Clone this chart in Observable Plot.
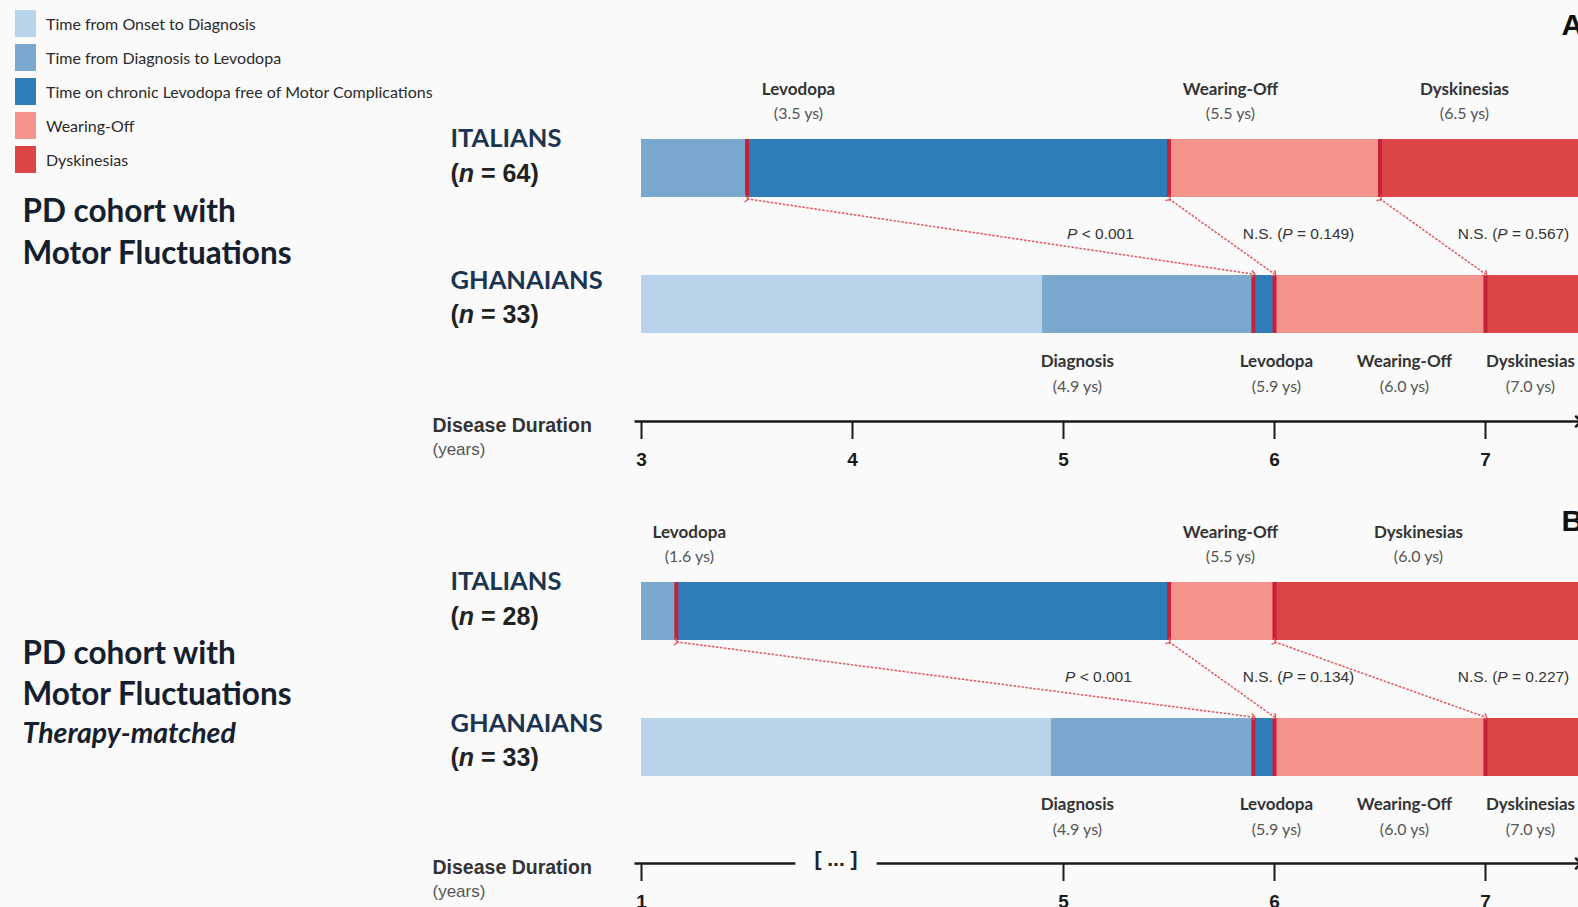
<!DOCTYPE html>
<html>
<head>
<meta charset="utf-8">
<script src="https://cdn.jsdelivr.net/npm/d3@7"></script>
<script src="https://cdn.jsdelivr.net/npm/@observablehq/plot@0.6"></script>
<style>
  html, body { margin: 0; padding: 0; background: #fafafa; overflow: hidden; }
  #page { position: relative; width: 1578px; height: 907px; }
  .panel { position: absolute; left: 0; }
  #legend { position: absolute; left: 15px; top: 10px; z-index: 2;
            font-family: Lato, sans-serif; font-size: 16px; color: #2a2a2a; }
  #legend .item { display: flex; align-items: center; height: 27px; margin-bottom: 7px; }
  #legend .sw { width: 21px; height: 27px; margin-right: 10px; }
</style>
</head>
<body>
<div id="page"><div id="legend"></div></div>
<script>
// Disease phases, in order along each bar
const phases = [
  "Time from Onset to Diagnosis",
  "Time from Diagnosis to Levodopa",
  "Time on chronic Levodopa free of Motor Complications",
  "Wearing-Off",
  "Dyskinesias"
];
const phaseColors = ["#b9d4ea", "#7aa8cf", "#2e7db8", "#f4938b", "#dc4545"];

// Milestones that close each phase (years of disease duration)
const events = ["Diagnosis", "Levodopa", "Wearing-Off", "Dyskinesias"];
const cohorts = ["ITALIANS", "GHANAIANS"];

// A: PD cohort with motor fluctuations
const sizesA = [64, 33];
const italiansA = [null, 3.5, 5.5, 6.5];
const ghanaiansA = [4.9, 5.9, 6.0, 7.0];
const pLabelsA = ["P < 0.001", "N.S. (P = 0.149)", "N.S. (P = 0.567)"];
const ticksA = [3, 4, 5, 6, 7];

// B: therapy-matched cohort
const sizesB = [28, 33];
const italiansB = [null, 1.6, 5.5, 6.0];
const ghanaiansB = [4.9, 5.9, 6.0, 7.0];
const pLabelsB = ["P < 0.001", "N.S. (P = 0.134)", "N.S. (P = 0.227)"];
const ticksB = [1, 5, 6, 7];

// ---- layout ----
const W = 1578;
const markerRed = "#c4213a";
const arrowRed = "#e0555b";
const navy = "#1b3550";
const hRow = 29 / 136; // half bar height, in row units

// Panel B has a broken time axis: the first years are squeezed before the break
const brokenB = d3.scaleLinear().domain([1, 2, 5, 8]).range([3, 3.275, 5, 8]);
const straight = (v) => v;

const panels = [
  {
    top: 0, height: 470, rowY: [168, 304], axisY: 421, fold: straight,
    xDomain: [3, 7.4408], xRange: [641, 1578], barStart: 3, axisFrom: 2.967, gap: null,
    times: [italiansA, ghanaiansA], sizes: sizesA, pLabels: pLabelsA, ticks: ticksA,
    topShift: [51.5, 61.5, 84.5], bottomShift: [35, 23, 130, 45], pShift: [-153, 24, 28],
    titles: [["PD cohort with", 211, false], ["Motor Fluctuations", 253, false]],
    letter: "A", letterY: 25
  },
  {
    top: 470, height: 437, rowY: [141, 277], axisY: 393, fold: brokenB,
    xDomain: [3, 7.4408], xRange: [641, 1578], barStart: 1, axisFrom: 0.879, gap: [2.79, 3.46],
    times: [italiansB, ghanaiansB], sizes: sizesB, pLabels: pLabelsB, ticks: ticksB,
    topShift: [13, 61.5, 144], bottomShift: [26, 23, 130, 45], pShift: [-155, 24, 28],
    titles: [["PD cohort with", 183, false], ["Motor Fluctuations", 224, false], ["Therapy-matched", 263, true]],
    letter: "B", letterY: 51
  }
];

// Legend
const legend = document.getElementById("legend");
phases.forEach((p, i) => {
  const item = document.createElement("div");
  item.className = "item";
  item.innerHTML = `<div class="sw" style="background:${phaseColors[i]}"></div><span>${p}</span>`;
  legend.appendChild(item);
});

// Split a cohort's milestones into coloured phase segments
function segments(times, row, start, end) {
  const out = [];
  let x1 = start;
  times.forEach((t, i) => {
    if (t == null) return;
    out.push({row, phase: phases[i], x1, x2: t});
    x1 = t;
  });
  out.push({row, phase: phases[4], x1, x2: end});
  return out;
}

// Italic statistical symbols (P, n)
function italicize(svg) {
  svg.querySelectorAll("text").forEach((t) => {
    if (t.children.length) return;
    const s = t.textContent;
    if (!/\(n = |\bP [<=]/.test(s)) return;
    t.textContent = "";
    s.split(/(\bP\b|\bn\b)/).forEach((part) => {
      if (!part) return;
      const ts = document.createElementNS("http://www.w3.org/2000/svg", "tspan");
      ts.textContent = part;
      if (part === "P" || part === "n") ts.setAttribute("font-style", "italic");
      t.appendChild(ts);
    });
  });
}

const sans = "Lato, sans-serif";
const arial = "'Liberation Sans', Arial, sans-serif";

panels.forEach((L) => {
  const f = L.fold;
  const xEnd = L.xDomain[1];
  const [it, gh] = L.times;
  const segs = [...segments(it, 0, L.barStart, xEnd), ...segments(gh, 1, L.barStart, xEnd)];
  const milestoneMarks = [];
  [it, gh].forEach((times, row) =>
    times.forEach((t, i) => { if (i > 0 && t != null) milestoneMarks.push({row, x: t}); })
  );
  const pairs = [1, 2, 3].map((i) => ({a: it[i], b: gh[i]}));
  const axisRow = (L.axisY - L.rowY[0]) / (L.rowY[1] - L.rowY[0]);

  const topLabels = events.slice(1).map((name, k) => ({name, value: it[k + 1], shift: L.topShift[k]}));
  const bottomLabels = events.map((name, k) => ({name, value: gh[k], shift: L.bottomShift[k]}));
  const pLabels = L.pLabels.map((label, k) => ({label, value: gh[k + 1], shift: L.pShift[k]}));

  const nameFont = {fontFamily: sans, fontSize: 17, fontWeight: "bold", fill: "#333"};
  const valueFont = {fontFamily: sans, fontSize: 16, fill: "#555"};
  const axisStroke = {stroke: "#1a1a1a", strokeWidth: 2.5};
  const atAxis = {y1: () => axisRow, y2: () => axisRow};

  const axisLines = L.gap
    ? [
        Plot.link([0], {x1: () => f(L.axisFrom), x2: () => f(L.gap[0]), ...atAxis, ...axisStroke}),
        Plot.link([0], {x1: () => f(L.gap[1]), x2: () => xEnd, ...atAxis, ...axisStroke, markerEnd: "arrow"}),
        Plot.text(["[ ... ]"], {x: () => f((L.gap[0] + L.gap[1]) / 2), y: () => axisRow, dy: -4,
          fontFamily: arial, fontSize: 21, fontWeight: "bold", fill: "#222"})
      ]
    : [
        Plot.link([0], {x1: () => f(L.axisFrom), x2: () => xEnd, ...atAxis, ...axisStroke, markerEnd: "arrow"})
      ];

  const tickLabel = new Map(L.ticks.map((t) => [f(t), String(t)]));
  const groupDy = [[-30, 5], [-24, 10.5]];

  const svg = Plot.plot({
    width: W,
    height: L.height,
    marginLeft: 0,
    marginRight: 0,
    marginTop: 0,
    marginBottom: L.height - L.axisY,
    style: {background: "transparent", overflow: "visible"},
    x: {domain: L.xDomain, range: L.xRange, axis: null},
    y: {domain: [0, 1], range: L.rowY, axis: null},
    color: {domain: phases, range: phaseColors},
    marks: [
      // phase bars
      Plot.rect(segs, {x1: (d) => f(d.x1), x2: (d) => f(d.x2), y1: (d) => d.row - hRow, y2: (d) => d.row + hRow, fill: "phase"}),
      // milestone markers
      Plot.ruleX(milestoneMarks, {x: (d) => f(d.x), y1: (d) => d.row - hRow, y2: (d) => d.row + hRow, stroke: markerRed, strokeWidth: 4}),
      // comparison arrows between cohorts
      Plot.link(pairs, {
        x1: (d) => f(d.a), x2: (d) => f(d.b),
        y1: () => hRow + 0.01, y2: () => 1 - hRow - 0.01,
        stroke: arrowRed, strokeWidth: 1.5, strokeDasharray: "2.5,1.5",
        markerStart: "arrow", markerEnd: "arrow"
      }),
      // milestone labels above the Italian bar
      ...topLabels.flatMap((d) => [
        Plot.text([d], {x: (v) => f(v.value), y: () => -hRow, dy: -50, dx: d.shift, text: "name", ...nameFont}),
        Plot.text([d], {x: (v) => f(v.value), y: () => -hRow, dy: -26, dx: d.shift, text: (v) => `(${v.value.toFixed(1)} ys)`, ...valueFont})
      ]),
      // milestone labels below the Ghanaian bar
      ...bottomLabels.flatMap((d) => [
        Plot.text([d], {x: (v) => f(v.value), y: () => 1 + hRow, dy: 28, dx: d.shift, text: "name", ...nameFont}),
        Plot.text([d], {x: (v) => f(v.value), y: () => 1 + hRow, dy: 53, dx: d.shift, text: (v) => `(${v.value.toFixed(1)} ys)`, ...valueFont})
      ]),
      // significance of each comparison
      ...pLabels.map((d) =>
        Plot.text([d], {x: (v) => f(v.value), y: () => hRow, dy: 37, dx: d.shift, text: "label", fontFamily: arial, fontSize: 15.5, fill: "#333"})
      ),
      // cohort names
      ...cohorts.flatMap((c, row) => [
        Plot.text([c], {frameAnchor: "left", y: () => row, dx: 450, dy: groupDy[row][0], textAnchor: "start",
          fontFamily: sans, fontSize: 25.5, fontWeight: "bold", fill: navy}),
        Plot.text([`(n = ${L.sizes[row]})`], {frameAnchor: "left", y: () => row, dx: 450, dy: groupDy[row][1], textAnchor: "start",
          fontFamily: arial, fontSize: 25, fontWeight: "bold", fill: "#222"})
      ]),
      // time axis
      ...axisLines,
      Plot.axisX({ticks: L.ticks.map(f), tickSize: 18, tickPadding: 13, tickFormat: (d) => tickLabel.get(d), label: null,
        fontFamily: arial, fontSize: 19, fontWeight: "bold", color: "#1a1a1a", strokeWidth: 2}),
      Plot.text(["Disease Duration"], {frameAnchor: "left", y: () => axisRow, dx: 432, dy: 4.5, textAnchor: "start",
        fontFamily: arial, fontSize: 19.5, fontWeight: "bold", fill: "#333"}),
      Plot.text(["(years)"], {frameAnchor: "left", y: () => axisRow, dx: 432, dy: 28.5, textAnchor: "start",
        fontFamily: arial, fontSize: 17, fill: "#555"}),
      // cohort titles
      ...L.titles.map(([t, y, italic]) =>
        Plot.text([t], {frameAnchor: "top-left", dx: 22, dy: y, textAnchor: "start", lineAnchor: "middle",
          fontFamily: sans, fontSize: italic ? 28.5 : 31.5, fontWeight: "bold", fontStyle: italic ? "italic" : "normal", fill: "#15202e"})
      ),
      // panel letter
      Plot.text([L.letter], {frameAnchor: "top-left", dx: 1561, dy: L.letterY, textAnchor: "start", lineAnchor: "middle",
        fontFamily: arial, fontSize: 30, fontWeight: "bold", fill: "#111"})
    ]
  });
  italicize(svg);
  svg.classList.add("panel");
  svg.style.top = L.top + "px";
  svg.style.position = "absolute";
  document.getElementById("page").appendChild(svg);
});
</script>
</body>
</html>
